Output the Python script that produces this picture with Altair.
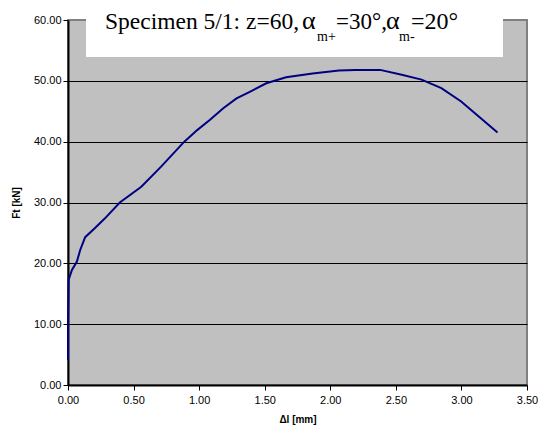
import altair as alt
import pandas as pd

dl = [0.0, 0.0, 0.005, 0.03, 0.068, 0.093, 0.131, 0.206, 0.282, 0.395, 0.559,
      0.71, 0.887, 0.985, 1.083, 1.184, 1.285, 1.386, 1.512, 1.663, 1.865,
      2.066, 2.19, 2.30, 2.38, 2.545, 2.696, 2.847, 2.998, 3.15, 3.275]
ft = [4.1, 10.0, 17.3, 18.9, 20.3, 22.2, 24.3, 25.8, 27.4, 30.0, 32.6,
      35.9, 40.0, 41.9, 43.6, 45.5, 47.1, 48.2, 49.6, 50.6, 51.2,
      51.7, 51.8, 51.8, 51.8, 51.0, 50.2, 48.8, 46.6, 43.8, 41.5]

x_ticks = [0.0, 0.5, 1.0, 1.5, 2.0, 2.5, 3.0, 3.5]
y_ticks = [0, 10, 20, 30, 40, 50, 60]

# title pieces
title_parts = ["Specimen 5/1: z=60,", "α", "m+", "=30°,", "α", "m-", "=20°"]
title_sub = [False, False, True, False, False, True, False]
title_size = [23.5, 26, 14, 23, 26, 14, 24]
title_x = [37, 234, 249, 268, 318, 331, 343]

df = pd.DataFrame({"dl": dl, "ft": ft, "order": list(range(len(dl)))})
one = pd.DataFrame({"a": [0]})

line = alt.Chart(df).mark_line(color="#000080", strokeWidth=2).encode(
    x=alt.X("dl:Q", scale=alt.Scale(domain=[0, 3.5], nice=False),
            axis=alt.Axis(values=x_ticks, format=".2f", title="Δl [mm]", grid=False,
                          domainColor="#000000", tickColor="#000000", tickSize=5,
                          labelPadding=4, titlePadding=9, labelFlush=False)),
    y=alt.Y("ft:Q", scale=alt.Scale(domain=[0, 60], nice=False),
            axis=alt.Axis(values=y_ticks, format=".2f", title="Ft [kN]", grid=True,
                          gridColor={"condition": {"test": "datum.value == 0 || datum.value == 60",
                                                   "value": "transparent"},
                                     "value": "#000000"},
                          gridWidth=1.2,
                          domainColor="#000000", tickColor="#000000", tickSize=5,
                          labelPadding=2, titlePadding=12, labelFlush=False)),
    order="order:Q",
)

box = alt.Chart(one).mark_rect(color="white").encode(
    x=alt.value(18), x2=alt.value(435), y=alt.value(-20), y2=alt.value(37)
)

font = "Liberation Serif"
texts = []
for txt, sub, size, xp in zip(title_parts, title_sub, title_size, title_x):
    texts.append(
        alt.Chart(one).mark_text(
            align="left", baseline="alphabetic", font=font,
            fontSize=size, color="black"
        ).encode(x=alt.value(xp), y=alt.value(21 if sub else 9), text=alt.value(txt))
    )

chart = alt.layer(line, box, *texts).properties(
    width=459, height=365,
    autosize=alt.AutoSizeParams(type="none"),
    padding={"left": 60, "top": 12, "right": 11, "bottom": 42},
).configure_view(
    fill="#C0C0C0", stroke="#808080", strokeWidth=2
).configure_axis(
    labelFont="Liberation Sans", labelFontSize=11, labelColor="#000000",
    titleFont="Liberation Sans", titleFontSize=10, titleFontWeight="bold", titleColor="#000000",
    domainWidth=2,
)

chart.save("out.html", embed_options={"renderer": "svg", "actions": False})
